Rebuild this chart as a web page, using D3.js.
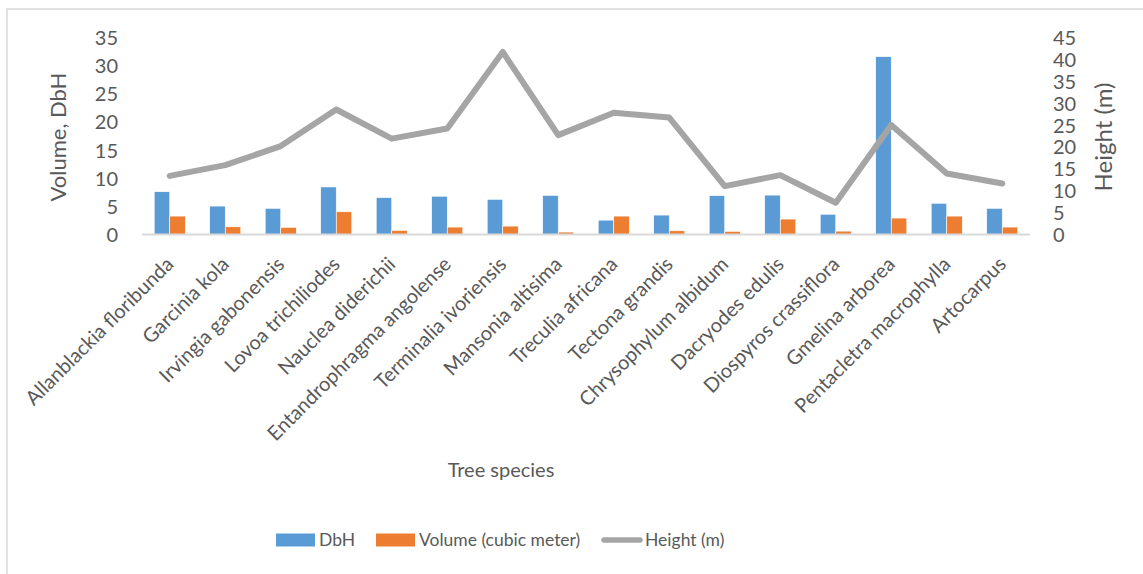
<!DOCTYPE html>
<html>
<head>
<meta charset="utf-8">
<script src="https://cdn.jsdelivr.net/npm/d3@7"></script>
<style>
  html, body { margin: 0; padding: 0; background: #fff; }
  svg { display: block; font-family: Lato, "Open Sans", sans-serif; }
</style>
</head>
<body>
<svg id="chart" width="1143" height="574"></svg>
<script>
// Tree species measured in the survey
const species = [
  "Allanblackia floribunda", "Garcinia kola", "Irvingia gabonensis", "Lovoa trichiliodes",
  "Nauclea diderichii", "Entandrophragma angolense", "Terminalia ivoriensis", "Mansonia altisima",
  "Treculia africana", "Tectona grandis", "Chrysophylum albidum", "Dacryodes edulis",
  "Diospyros crassiflora", "Gmelina arborea", "Pentacletra macrophylla", "Artocarpus"
];
// Diameter at breast height
const dbh = [7.6, 5.05, 4.65, 8.45, 6.55, 6.8, 6.25, 6.95, 2.55, 3.45, 6.9, 7.0, 3.6, 31.6, 5.55, 4.65];
// Volume (cubic meter)
const volume = [3.27, 1.37, 1.26, 4.04, 0.73, 1.32, 1.49, 0.43, 3.27, 0.66, 0.55, 2.74, 0.6, 2.92, 3.27, 1.32];
// Height (m)
const height = [13.4, 15.85, 20.2, 28.55, 21.9, 24.2, 41.7, 22.7, 27.8, 26.7, 11.05, 13.55, 7.25, 25.0, 13.95, 11.65];

const leftTicks = [0, 5, 10, 15, 20, 25, 30, 35];
const rightTicks = [0, 5, 10, 15, 20, 25, 30, 35, 40, 45];

const colors = { dbh: "#5B9BD5", volume: "#ED7D31", height: "#A5A5A5" };
const textColor = "#595959";

const svg = d3.select("#chart");

// chart frame
svg.append("path")
  .attr("d", "M7,574 V9 H1143")
  .attr("fill", "none")
  .attr("stroke", "#D9D9D9")
  .attr("stroke-width", 1.5);

const plot = { left: 142, right: 1030, top: 37.5, bottom: 234.5 };

const x = d3.scaleBand().domain(species).range([plot.left, plot.right]);
const yL = d3.scaleLinear().domain([0, 35]).range([plot.bottom, plot.top]);
const yR = d3.scaleLinear().domain([0, 45]).range([plot.bottom, plot.top]);

const barW = x.bandwidth() * 0.28;

// bars
const g = svg.append("g");
g.selectAll("rect.dbh").data(dbh).join("rect")
  .attr("class", "dbh")
  .attr("x", (d, i) => x(species[i]) + x.bandwidth() / 2 - barW)
  .attr("y", d => yL(d))
  .attr("width", barW)
  .attr("height", d => yL(0) - yL(d))
  .attr("fill", colors.dbh)
  .attr("stroke", "#fff").attr("stroke-width", 0.6);

g.selectAll("rect.vol").data(volume).join("rect")
  .attr("class", "vol")
  .attr("x", (d, i) => x(species[i]) + x.bandwidth() / 2)
  .attr("y", d => yL(d))
  .attr("width", barW)
  .attr("height", d => yL(0) - yL(d))
  .attr("fill", colors.volume)
  .attr("stroke", "#fff").attr("stroke-width", 0.6);

// category baseline
svg.append("line")
  .attr("x1", plot.left).attr("x2", plot.right)
  .attr("y1", yL(0)).attr("y2", yL(0))
  .attr("stroke", "#D9D9D9").attr("stroke-width", 2);

// height line on secondary axis
const line = d3.line()
  .x((d, i) => x(species[i]) + x.bandwidth() / 2)
  .y(d => yR(d));
svg.append("path")
  .datum(height)
  .attr("d", line)
  .attr("fill", "none")
  .attr("stroke", colors.height)
  .attr("stroke-width", 6)
  .attr("stroke-linejoin", "round")
  .attr("stroke-linecap", "round");

// left axis
const axL = svg.append("g")
  .attr("transform", `translate(${plot.left - 24},0)`)
  .call(d3.axisLeft(yL).tickValues(leftTicks).tickSize(0).tickPadding(0));
axL.select(".domain").remove();
axL.selectAll("text").attr("fill", textColor).style("font-size", "20px")
  .style("font-family", "Lato").attr("dy", "0.35em");

// right axis
const axR = svg.append("g")
  .attr("transform", `translate(${plot.right + 23},0)`)
  .call(d3.axisRight(yR).tickValues(rightTicks).tickSize(0).tickPadding(0));
axR.select(".domain").remove();
axR.selectAll("text").attr("fill", textColor).style("font-size", "20px")
  .style("font-family", "Lato").attr("dy", "0.35em");

// category labels
const axB = svg.append("g")
  .attr("transform", `translate(0,${plot.bottom})`)
  .call(d3.axisBottom(x).tickSize(0).tickPadding(0));
axB.select(".domain").remove();
axB.selectAll("text")
  .attr("fill", textColor)
  .style("font-size", "20px")
  .style("font-family", "Lato")
  .attr("text-anchor", "end")
  .attr("dy", null)
  .attr("y", 0)
  .attr("transform", "translate(5,31) rotate(-45)");

// axis titles
svg.append("text")
  .attr("transform", `translate(66,137) rotate(-90)`)
  .attr("text-anchor", "middle")
  .attr("fill", textColor)
  .style("font-size", "22px")
  .text("Volume, DbH");

svg.append("text")
  .attr("transform", `translate(1112,137) rotate(-90)`)
  .attr("text-anchor", "middle")
  .attr("fill", textColor)
  .style("font-size", "24px")
  .text("Height (m)");

svg.append("text")
  .attr("x", 501).attr("y", 477)
  .attr("text-anchor", "middle")
  .attr("fill", textColor)
  .style("font-size", "20px")
  .text("Tree species");

// legend
const legendItems = [
  { label: "DbH", type: "rect", color: colors.dbh, x: 276 },
  { label: "Volume (cubic meter)", type: "rect", color: colors.volume, x: 376 },
  { label: "Height (m)", type: "line", color: colors.height, x: 602 }
];
const lg = svg.append("g");
legendItems.forEach(item => {
  if (item.type === "rect") {
    lg.append("rect")
      .attr("x", item.x).attr("y", 533.5)
      .attr("width", 39).attr("height", 13)
      .attr("fill", item.color);
  } else {
    lg.append("line")
      .attr("x1", item.x + 2).attr("x2", item.x + 38)
      .attr("y1", 540).attr("y2", 540)
      .attr("stroke", item.color).attr("stroke-width", 5.5)
      .attr("stroke-linecap", "round");
  }
  lg.append("text")
    .attr("x", item.x + 43).attr("y", 540)
    .attr("dy", "0.35em")
    .attr("fill", textColor)
    .style("font-size", "17.5px")
    .text(item.label);
});
</script>
</body>
</html>
